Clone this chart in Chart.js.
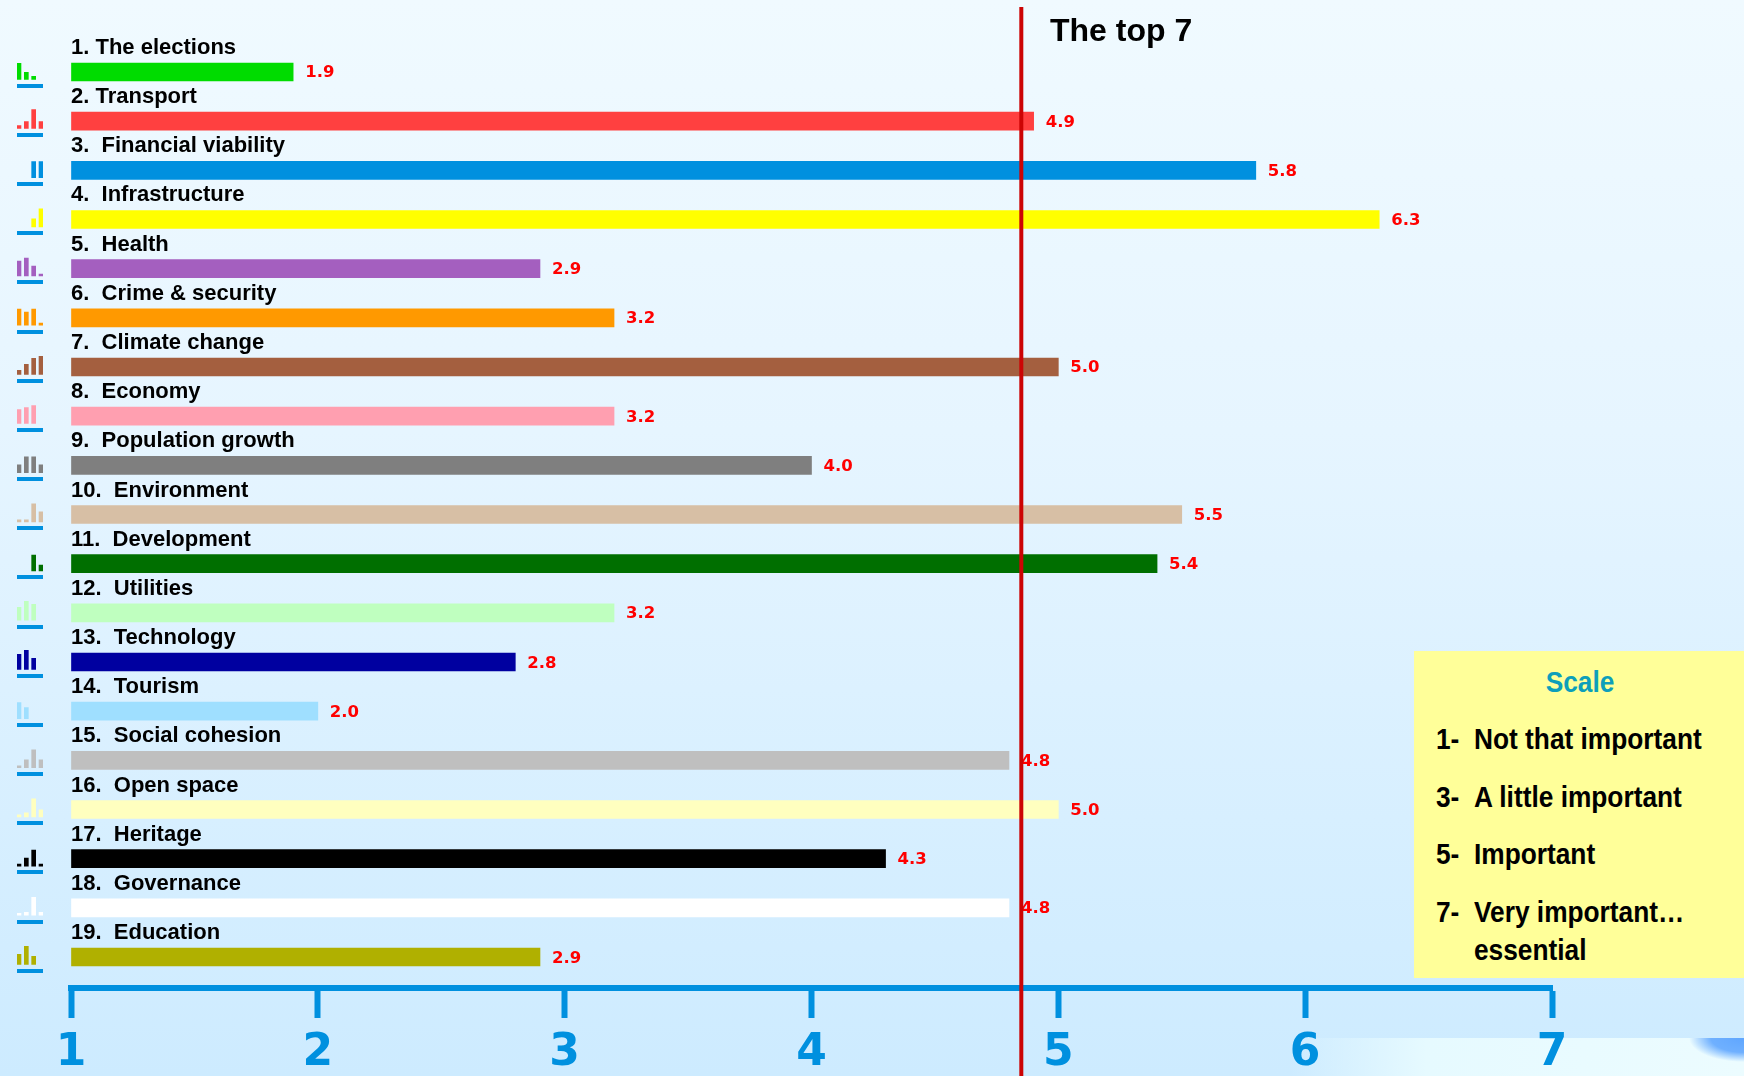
<!DOCTYPE html>
<html>
<head>
<meta charset="utf-8">
<title>The top 7</title>
<script src="https://cdn.jsdelivr.net/npm/chart.js@4"></script>
<style>
  html, body { margin: 0; padding: 0; }
  body {
    position: relative; width: 1744px; height: 1076px; overflow: hidden;
    background: linear-gradient(to bottom, #f0faff 0%, #e6f5ff 40%, #cdebff 100%);
  }
  canvas { position: absolute; left: 0; top: 0; }
  #clouds {
    position: absolute; left: 1290px; top: 1038px; width: 454px; height: 38px;
    background:
      radial-gradient(ellipse 55px 24px at 100% 0%, #5fa6ff 0%, #6fb0ff 60%, rgba(111,176,255,0) 100%),
      linear-gradient(to right, rgba(230,250,255,0) 0%, #e6faff 30%, #ecfcff 100%);
  }
  #title {
    position: absolute; left: 1050px; top: 12px;
    font: bold 32px "Liberation Sans", Arial, sans-serif; color: #000;
  }
  #scale {
    position: absolute; left: 1414px; top: 651px; width: 330px; height: 327px;
    background: #ffff99; color: #000;
    font: bold 30px "Liberation Sans", Arial, sans-serif;
  }
  #scale div { position: absolute; white-space: pre; line-height: 34px; transform: scaleX(0.876); transform-origin: left top; }
  #scale .head { left: 0; width: 332px; text-align: center; top: 14px; color: #0d9fba; transform-origin: center top; }
</style>
</head>
<body>
<div id="clouds"></div>
<canvas id="icons" width="60" height="1076"></canvas>
<canvas id="myChart" width="1744" height="1076"></canvas>
<div id="title">The top 7</div>
<div id="scale">
  <div class="head">Scale</div>
  <div style="left:22px;top:71px">1-</div><div style="left:60px;top:71px">Not that important</div>
  <div style="left:22px;top:129px">3-</div><div style="left:60px;top:129px">A little important</div>
  <div style="left:22px;top:186px">5-</div><div style="left:60px;top:186px">Important</div>
  <div style="left:22px;top:244px">7-</div><div style="left:60px;top:244px">Very important…</div>
  <div style="left:60px;top:282px">essential</div>
</div>

<script>
const categories = [
  '1. The elections', '2. Transport', '3.  Financial viability', '4.  Infrastructure',
  '5.  Health', '6.  Crime & security', '7.  Climate change', '8.  Economy',
  '9.  Population growth', '10.  Environment', '11.  Development', '12.  Utilities',
  '13.  Technology', '14.  Tourism', '15.  Social cohesion', '16.  Open space',
  '17.  Heritage', '18.  Governance', '19.  Education'
];
const scores = [1.9, 4.9, 5.8, 6.3, 2.9, 3.2, 5.0, 3.2, 4.0, 5.5, 5.4, 3.2, 2.8, 2.0, 4.8, 5.0, 4.3, 4.8, 2.9];
const barColors = [
  '#00dc00', '#ff4040', '#0090df', '#ffff00', '#a45fbf', '#ff9900', '#a45f3f', '#ff9fb0', '#7f7f7f', '#d7bfa5',
  '#006f00', '#bfffbf', '#0000a0', '#9fdfff', '#bfbfbf', '#ffffbf', '#000000', '#ffffff', '#b0b000'
];
const axisTicks = [1, 2, 3, 4, 5, 6, 7];
const topSevenCut = 4.85;

// the little response histograms at the left, one array per answer column
const iconCol1 = [16, 3, 0, 0, 15, 16, 4, 14, 8, 2, 0, 13, 15, 16, 2, 2, 2, 2, 10];
const iconCol2 = [7, 7, 0, 0, 18, 13, 10, 16, 16, 2, 0, 19, 19, 11, 8, 4, 8, 3, 18];
const iconCol3 = [3, 19, 16, 8, 10, 16, 16, 18, 16, 18, 16, 16, 11, 0, 18, 18, 16, 18, 8];
const iconCol4 = [0, 7, 16, 18, 2, 2, 18, 0, 8, 10, 6, 0, 0, 0, 8, 7, 2, 3, 0];

const blue = '#0090df';
const rowTop = 47.4;
const rowBottom = 981.6;

// names and scores written above / after the bars, red cut line on top
const rowText = {
  id: 'rowText',
  afterDatasetsDraw(chart) {
    const ctx = chart.ctx;
    const x = chart.scales.x;
    const y = chart.scales.y;
    ctx.save();
    ctx.textAlign = 'left';
    ctx.textBaseline = 'alphabetic';
    categories.forEach((name, i) => {
      ctx.fillStyle = '#000';
      ctx.font = 'bold 22px "Liberation Sans", Arial, sans-serif';
      ctx.fillText(name, x.getPixelForValue(1), y.getPixelForValue(i) - 18);
      ctx.fillStyle = '#ff0000';
      ctx.font = 'bold 16.5px "DejaVu Sans", sans-serif';
      ctx.fillText(scores[i].toFixed(1), x.getPixelForValue(scores[i]) + 12, y.getPixelForValue(i) + 5.5);
    });
    ctx.strokeStyle = '#cc0404';
    ctx.lineWidth = 4;
    ctx.beginPath();
    ctx.moveTo(x.getPixelForValue(topSevenCut), 7);
    ctx.lineTo(x.getPixelForValue(topSevenCut), chart.height);
    ctx.stroke();
    ctx.restore();
  }
};

new Chart(document.getElementById('myChart').getContext('2d'), {
  type: 'bar',
  data: {
    labels: categories,
    datasets: [{
      data: scores,
      backgroundColor: barColors,
      base: 1,
      barThickness: 18
    }]
  },
  options: {
    indexAxis: 'y',
    responsive: false,
    animation: false,
    layout: { padding: { left: 71, right: 192, top: rowTop, bottom: 1076 - rowBottom } },
    plugins: { legend: { display: false }, tooltip: { enabled: false } },
    scales: {
      y: { type: 'category', display: false, offset: true },
      x: {
        type: 'linear',
        min: 1,
        max: 7,
        position: { y: 18.63 },
        afterFit(scale) { scale.height = 0; },
        afterBuildTicks(scale) { scale.ticks = axisTicks.map(v => ({ value: v })); },
        border: { display: true, color: blue, width: 6 },
        grid: { drawOnChartArea: false, drawTicks: true, tickLength: 27, tickColor: blue, tickWidth: 6 },
        ticks: {
          color: blue,
          maxRotation: 0,
          padding: 12,
          font: { family: '"DejaVu Sans", sans-serif', size: 44, weight: 'bold' }
        }
      }
    }
  },
  plugins: [rowText]
});

function iconSet(col, index) {
  // floating bars in row units, one row is 49.17 px, empty answers draw nothing
  return {
    data: col.map((h, r) => ({ x: index, y: h ? [r + 0.15 - h / 49.17, r + 0.15] : null })),
    backgroundColor: barColors,
    barThickness: 4,
    grouped: false
  };
}

new Chart(document.getElementById('icons').getContext('2d'), {
  type: 'bar',
  data: {
    datasets: [iconSet(iconCol1, 0), iconSet(iconCol2, 1), iconSet(iconCol3, 2), iconSet(iconCol4, 3)]
  },
  options: {
    responsive: false,
    animation: false,
    layout: { padding: { left: 17, right: 17, top: rowTop, bottom: 1076 - rowBottom } },
    plugins: { legend: { display: false }, tooltip: { enabled: false } },
    scales: {
      x: { type: 'linear', display: false, min: -0.27, max: 3.27, offset: false },
      y: {
        type: 'linear',
        reverse: true,
        min: -0.5,
        max: 18.5,
        afterBuildTicks(scale) { scale.ticks = categories.map((c, r) => ({ value: r + 0.28 })); },
        border: { display: false },
        grid: { color: blue, lineWidth: 4, drawTicks: false },
        ticks: { display: false }
      }
    }
  }
});
</script>
</body>
</html>
